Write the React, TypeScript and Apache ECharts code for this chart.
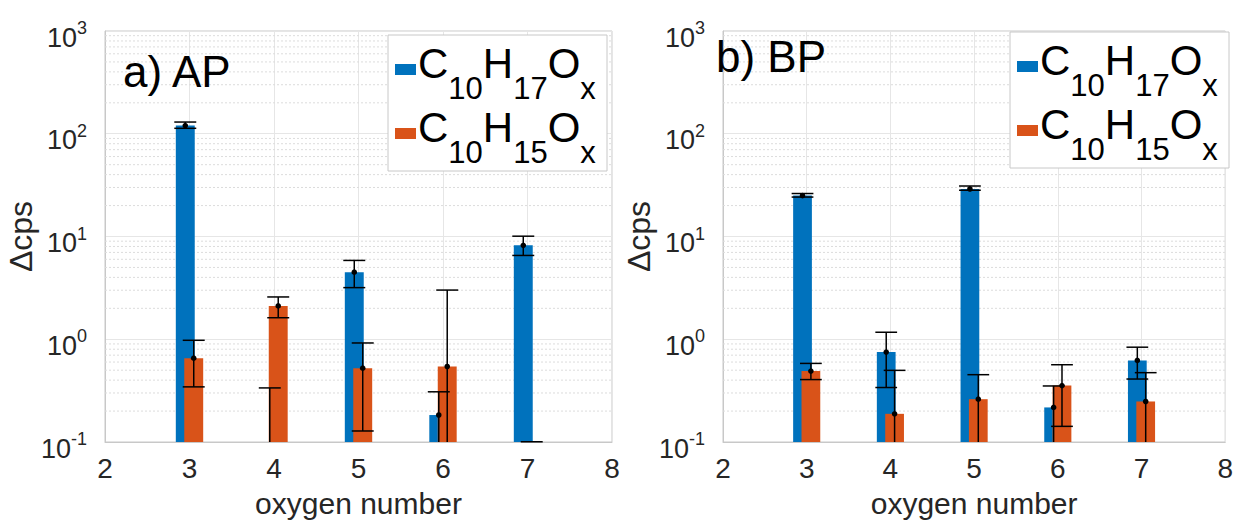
import React, { useEffect, useRef } from "react";
import * as echarts from "echarts";

// ---- data ----
const oxygenNumbers = [3, 4, 5, 6, 7];
const xTicks = [2, 3, 4, 5, 6, 7, 8];
const yTicks = [0.1, 1, 10, 100, 1000];
const minorTicks = [
  0.2, 0.3, 0.4, 0.5, 0.6, 0.7, 0.8, 0.9,
  2, 3, 4, 5, 6, 7, 8, 9,
  20, 30, 40, 50, 60, 70, 80, 90,
  200, 300, 400, 500, 600, 700, 800, 900,
];

// panel a) AP   (null = below axis / absent; 0.05 = error bar reaching below the axis)
const apC17 = [120, null, 4.5, 0.183, 8.2];
const apC17Lo = [113, 0.05, 3.18, 0.05, 6.54];
const apC17Hi = [130, 0.336, 5.85, 0.308, 10.07];
const apC15 = [0.655, 2.11, 0.523, 0.543, null];
const apC15Lo = [0.344, 1.62, 0.128, 0.05, 0.05];
const apC15Hi = [0.977, 2.58, 0.92, 3.01, 0.1005];

// panel b) BP
const bpC17 = [25, 0.75, 29, 0.217, 0.622];
const bpC17Lo = [24.2, 0.339, 28.2, 0.05, 0.41];
const bpC17Hi = [26.2, 1.17, 31, 0.351, 0.837];
const bpC15 = [0.49, 0.188, 0.261, 0.354, 0.248];
const bpC15Lo = [0.405, 0.05, 0.05, 0.142, 0.05];
const bpC15Hi = [0.582, 0.498, 0.452, 0.565, 0.473];

const panelTitles = ["a) AP", "b) BP"];
const seriesNames = ["C10H17Ox", "C10H15Ox"];

// ---- style ----
const BLUE = "#0072BD";
const ORANGE = "#D95319";
const FONT = '"Liberation Sans", Arial, Helvetica, sans-serif';
const TXT = "#262626";
const Y_MIN = 0.1;
const Y_MAX = 1000;
const X_MIN = 2;
const X_MAX = 8;
const OFFSET = 0.05;
const BAR_HALF = 0.112;
const CAP_HALF = 0.13;

const grids = [
  { left: 105, top: 31, width: 507, height: 412 },
  { left: 723, top: 31, width: 507, height: 413 },
];

function barSeries(gi: number, vals: (number | null)[], off: number, color: string, name: string) {
  const data: number[][] = [];
  oxygenNumbers.forEach((x, i) => {
    const v = vals[i];
    if (v != null) data.push([x, v]);
  });
  return {
    type: "custom",
    name,
    xAxisIndex: gi,
    yAxisIndex: gi,
    z: 2,
    clip: true,
    data,
    encode: { x: 0, y: 1 },
    renderItem: (_p: any, api: any) => {
      const x = api.value(0) + off;
      const v = api.value(1);
      const a = api.coord([x - BAR_HALF, v]);
      const b = api.coord([x + BAR_HALF, Y_MIN]);
      return {
        type: "rect",
        shape: { x: a[0], y: a[1], width: b[0] - a[0], height: b[1] - a[1] },
        style: { fill: color },
      };
    },
  };
}

function errSeries(gi: number, vals: (number | null)[], lo: number[], hi: number[], off: number) {
  const data = oxygenNumbers.map((x, i) => [x, hi[i]]);
  return {
    type: "custom",
    xAxisIndex: gi,
    yAxisIndex: gi,
    z: 5,
    data,
    encode: { x: 0, y: 1 },
    renderItem: (p: any, api: any) => {
      const i = p.dataIndex;
      const x = api.value(0) + off;
      const l = lo[i];
      const h = hi[i];
      const v = vals[i];
      const stroke = { stroke: "#000", lineWidth: 1.5 };
      const children: any[] = [];
      const top = api.coord([x, h]);
      const bot = api.coord([x, Math.max(l, Y_MIN)]);
      children.push({ type: "line", shape: { x1: top[0], y1: top[1], x2: bot[0], y2: bot[1] }, style: stroke });
      const capL = api.coord([x - CAP_HALF, h]);
      const capR = api.coord([x + CAP_HALF, h]);
      children.push({ type: "line", shape: { x1: capL[0], y1: capL[1], x2: capR[0], y2: capR[1] }, style: stroke });
      if (l >= Y_MIN) {
        const lL = api.coord([x - CAP_HALF, l]);
        const lR = api.coord([x + CAP_HALF, l]);
        children.push({ type: "line", shape: { x1: lL[0], y1: lL[1], x2: lR[0], y2: lR[1] }, style: stroke });
      }
      if (v != null) {
        const c = api.coord([x, v]);
        children.push({ type: "circle", shape: { cx: c[0], cy: c[1], r: 2.8 }, style: { fill: "#000" } });
      }
      return { type: "group", children };
    },
  };
}

function minorGridSeries(gi: number) {
  return {
    type: "custom",
    xAxisIndex: gi,
    yAxisIndex: gi,
    z: 1,
    silent: true,
    data: minorTicks.map((v) => [X_MIN, v]),
    encode: { x: 0, y: 1 },
    renderItem: (_p: any, api: any) => {
      const v = api.value(1);
      const a = api.coord([X_MIN, v]);
      const b = api.coord([X_MAX, v]);
      return {
        type: "line",
        shape: { x1: a[0], y1: a[1], x2: b[0], y2: b[1] },
        style: { stroke: "#dcdcdc", lineWidth: 1, lineDash: [2, 2] },
      };
    },
  };
}

const formulaRich = {
  n: { fontSize: 42, lineHeight: 44, fontFamily: FONT, fill: "#000", verticalAlign: "top" },
  s: { fontSize: 31, lineHeight: 62, fontFamily: FONT, fill: "#000", verticalAlign: "bottom" },
};
const formulaTexts = ["{n|C}{s|10}{n|H}{s|17}{n|O}{s|x}", "{n|C}{s|10}{n|H}{s|15}{n|O}{s|x}"];

function legendGraphic(dx: number, dy: number) {
  const colors = [BLUE, ORANGE];
  const children: any[] = [
    {
      type: "rect",
      z: 100,
      shape: { x: 388 + dx, y: 35 + dy, width: 219, height: 136 },
      style: { fill: "#fff", stroke: "#c8c8c8", lineWidth: 1 },
    },
  ];
  [0, 1].forEach((k) => {
    const cy = 73 + dy + k * 64;
    children.push({
      type: "rect",
      z: 101,
      shape: { x: 395 + dx, y: cy - 9, width: 21, height: 11 },
      style: { fill: colors[k] },
    });
    children.push({
      type: "text",
      z: 101,
      x: 418 + dx,
      y: cy,
      style: {
        text: formulaTexts[k],
        rich: formulaRich,
        verticalAlign: "middle",
        align: "left",
        fill: "#000",
      },
    });
  });
  return { type: "group", z: 100, children };
}

function yLabel(v: number) {
  const e = Math.round(Math.log10(v));
  return `{b|10}{s|${e}}`;
}

export default function App() {
  const ref = useRef<HTMLDivElement>(null);
  useEffect(() => {
    if (!ref.current) return;
    const chart = echarts.init(ref.current, null, { renderer: "svg" });
    const xAxes = grids.map((_, gi) => ({
      type: "value",
      gridIndex: gi,
      min: X_MIN,
      max: X_MAX,
      interval: 1,
      name: "oxygen number",
      nameLocation: "middle",
      nameGap: 46,
      nameTextStyle: { fontFamily: FONT, fontSize: 30, color: TXT },
      axisLine: { show: true, onZero: false, lineStyle: { color: "#c8c8c8", width: 1 } },
      axisTick: { show: false },
      axisLabel: {
        margin: 12,
        fontFamily: FONT,
        fontSize: 28,
        color: TXT,
        formatter: (v: number) => (xTicks.includes(v) ? String(v) : ""),
      },
      splitLine: { show: true, lineStyle: { color: "#e6e6e6", width: 1 } },
    }));
    const yAxes = grids.map((_, gi) => ({
      type: "log",
      logBase: 10,
      gridIndex: gi,
      min: Y_MIN,
      max: Y_MAX,
      name: "Δcps",
      nameLocation: "middle",
      nameGap: 62,
      nameTextStyle: { fontFamily: FONT, fontSize: 32, color: TXT },
      axisLine: { show: true, lineStyle: { color: "#c8c8c8", width: 1 } },
      axisTick: { show: false },
      axisLabel: {
        margin: 18,
        color: TXT,
        formatter: (v: number) => (yTicks.some((t) => Math.abs(t - v) / t < 1e-6) ? yLabel(v) : ""),
        padding: [8, 0, 0, 0],
        rich: {
          b: { fontFamily: FONT, fontSize: 27, lineHeight: 32, color: TXT, verticalAlign: "bottom" },
          s: { fontFamily: FONT, fontSize: 18, lineHeight: 18, color: TXT, verticalAlign: "top" },
        },
      },
      splitLine: { show: true, lineStyle: { color: "#e6e6e6", width: 1 } },
    }));

    const series: any[] = [
      minorGridSeries(0),
      minorGridSeries(1),
      barSeries(0, apC17, -OFFSET, BLUE, seriesNames[0]),
      barSeries(0, apC15, OFFSET, ORANGE, seriesNames[1]),
      errSeries(0, apC17, apC17Lo, apC17Hi, -OFFSET),
      errSeries(0, apC15, apC15Lo, apC15Hi, OFFSET),
      barSeries(1, bpC17, -OFFSET, BLUE, seriesNames[0]),
      barSeries(1, bpC15, OFFSET, ORANGE, seriesNames[1]),
      errSeries(1, bpC17, bpC17Lo, bpC17Hi, -OFFSET),
      errSeries(1, bpC15, bpC15Lo, bpC15Hi, OFFSET),
    ];

    chart.setOption({
      animation: false,
      backgroundColor: "#fff",
      grid: grids.map((g) => ({ ...g, show: true, borderColor: "#c8c8c8", borderWidth: 1, backgroundColor: "transparent" })),
      xAxis: xAxes,
      yAxis: yAxes,
      series,
      graphic: [
        legendGraphic(0, 0),
        legendGraphic(622, -3),
        {
          type: "text",
          x: 123,
          y: 71,
          z: 100,
          style: { text: panelTitles[0], font: `44px ${FONT}`, fill: "#000", verticalAlign: "middle" },
        },
        {
          type: "text",
          x: 716,
          y: 56,
          z: 100,
          style: { text: panelTitles[1], font: `44px ${FONT}`, fill: "#000", verticalAlign: "middle" },
        },
      ],
    });
    return () => chart.dispose();
  }, []);
  return <div ref={ref} style={{ position: "fixed", left: 0, top: 0, width: 1236, height: 523, background: "#fff" }} />;
}
